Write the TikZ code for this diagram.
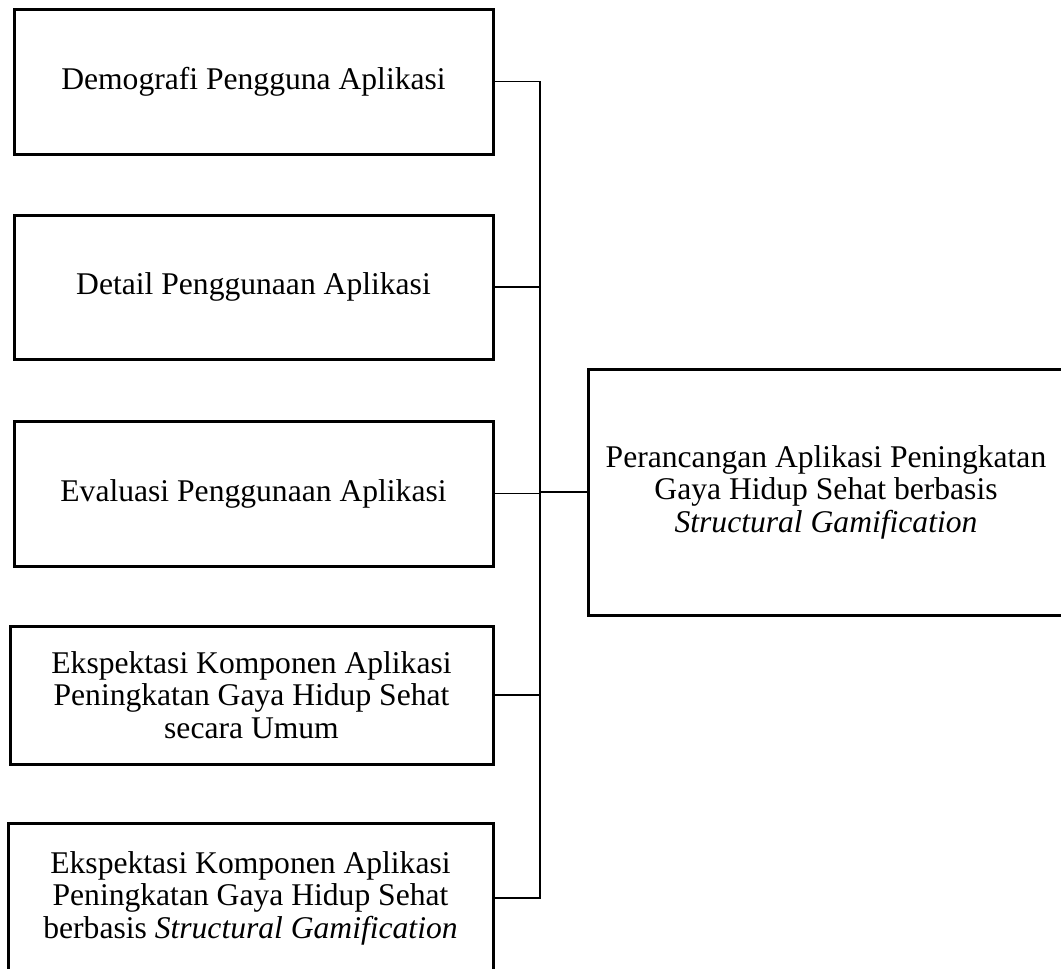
\documentclass[tikz,border=0pt]{standalone}
\usepackage{fontspec}
\setmainfont{Liberation Serif}
\begin{document}
\begin{tikzpicture}[x=0.5pt,y=-0.5pt,
  boxnode/.style={draw=black,line width=1.5pt,align=center,inner sep=0pt,
    font=\fontsize{15.8}{16.3}\selectfont},
  link/.style={draw=black,line width=0.7pt}]
\path[use as bounding box] (0,0) rectangle (1061,969);
\clip (0,0) rectangle (1061,969);
\node[boxnode,minimum width=479*0.5pt,minimum height=145*0.5pt] (b1) at (253.5,81.5) {Demografi Pengguna Aplikasi};
\node[boxnode,minimum width=479*0.5pt,minimum height=144*0.5pt] (b2) at (253.5,287) {Detail Penggunaan Aplikasi};
\node[boxnode,minimum width=479*0.5pt,minimum height=145*0.5pt] (b3) at (253.5,493.5) {Evaluasi Penggunaan Aplikasi};
\node[boxnode,minimum width=483*0.5pt,minimum height=138*0.5pt] (b4) at (251.5,695) {Ekspektasi Komponen Aplikasi\\Peningkatan Gaya Hidup Sehat\\secara Umum};
\node[boxnode,minimum width=485*0.5pt,minimum height=150*0.5pt] (b5) at (250.5,898) {Ekspektasi Komponen Aplikasi\\Peningkatan Gaya Hidup Sehat\\berbasis \textit{Structural Gamification}};
\node[boxnode,minimum width=476*0.5pt,minimum height=246*0.5pt] (r) at (826,492) {Perancangan Aplikasi Peningkatan\\Gaya Hidup Sehat berbasis\\\textit{Structural Gamification}};
\coordinate (j) at (540,492);
\draw[link] (b1.east) -| (j);
\draw[link] (b2.east) -| (j);
\draw[link] (b3.east) -| (j);
\draw[link] (b4.east) -| (j);
\draw[link] (b5.east) -| (j);
\draw[link] (j) -- (r.west);
\end{tikzpicture}
\end{document}
